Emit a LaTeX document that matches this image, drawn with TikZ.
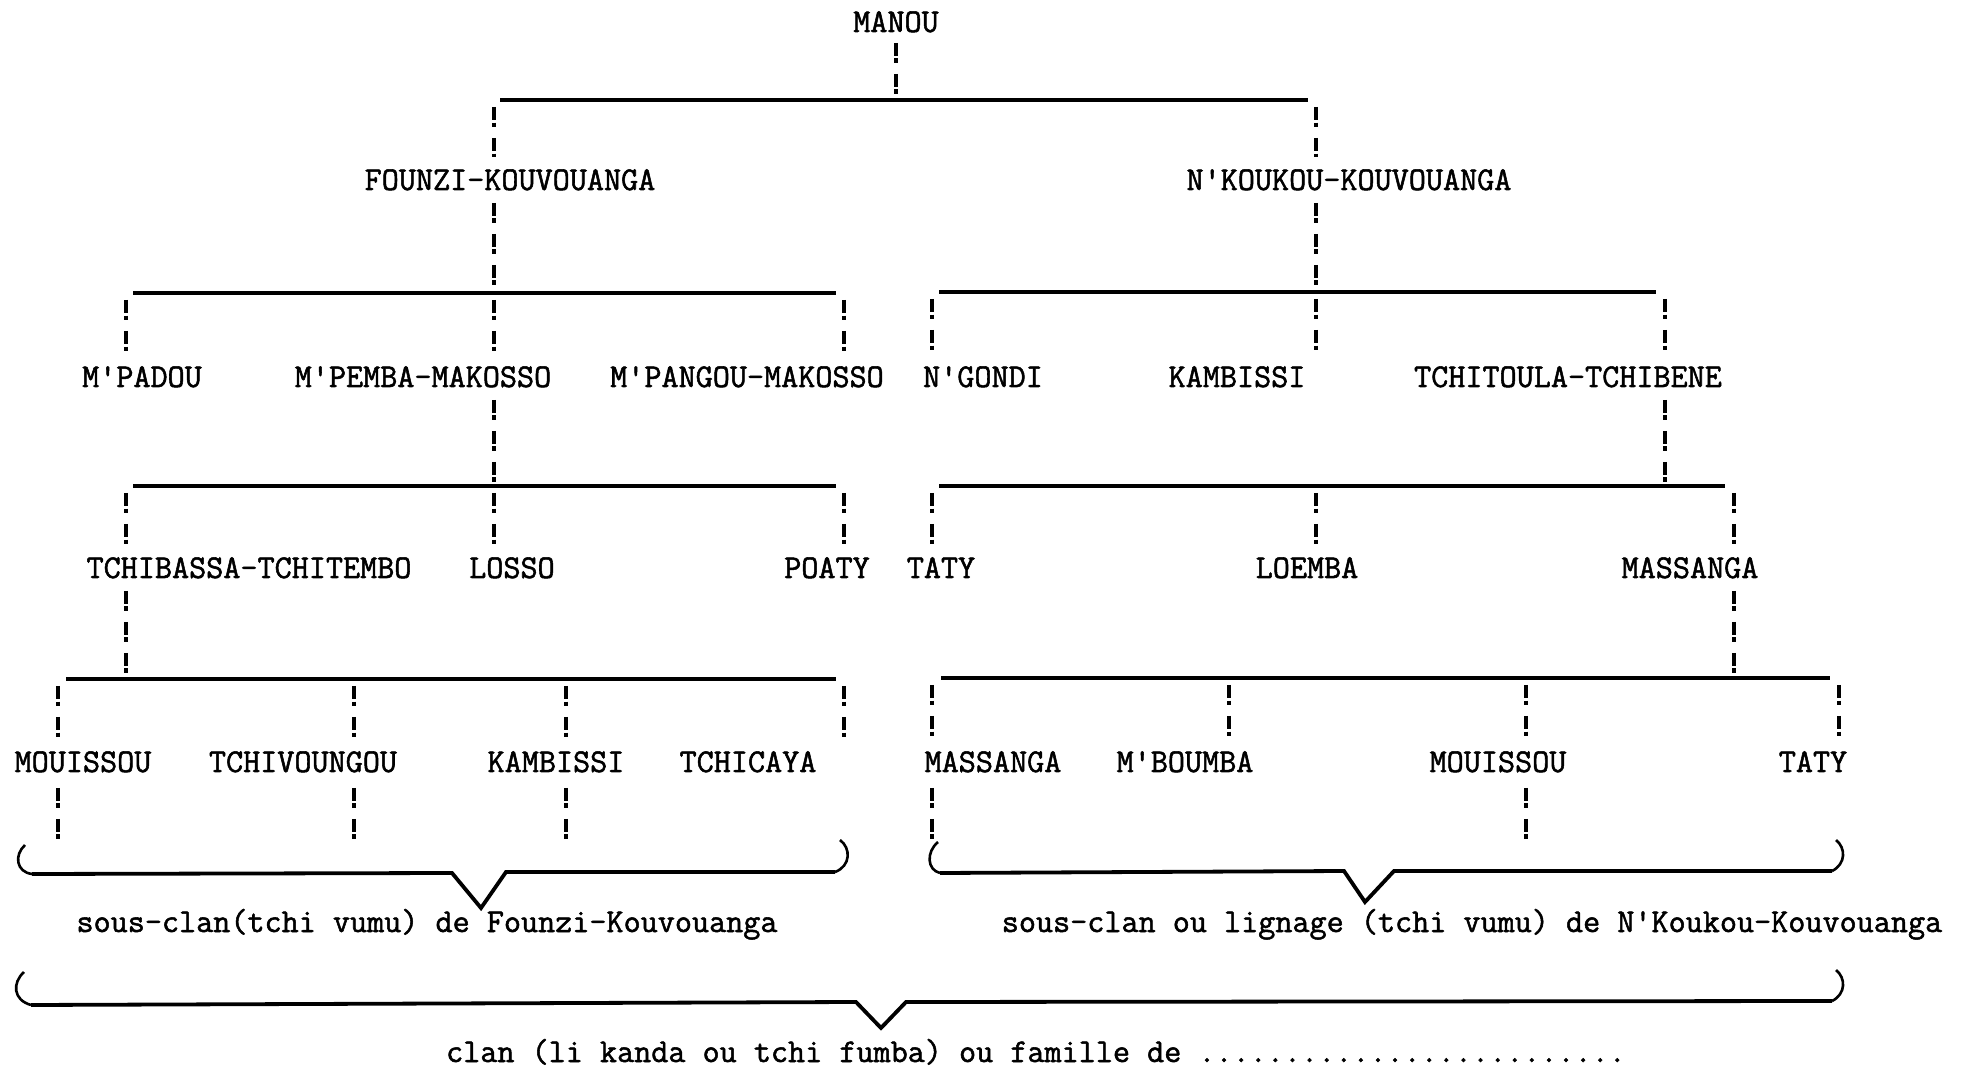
\documentclass[tikz,border=0pt]{standalone}
\usepackage{fontspec}
\newfontfamily\typed{Latin Modern Mono}[FakeBold=1.6]
\usepackage{tikz}
\usetikzlibrary{calc}
\begin{document}
\begin{tikzpicture}[x=0.5pt,y=-0.5pt,
  person/.style={font=\typed\fontsize{16.6}{20}\selectfont,inner sep=0pt,anchor=base},
  excl/.style={line width=1.8pt,dash pattern=on 6.5pt off 1.3pt on 2.2pt off 5.5pt},
  branch/.style={line width=1.9pt},
  paren/.style={line width=1.3pt}]
\useasboundingbox (0,0) rectangle (1961,1074);
% generations
\node[person](manou) at (896,32){MANOU};
\node[person](founzi) at (510,190){FOUNZI-KOUVOUANGA};
\node[person](nkoukou) at (1349,190){N'KOUKOU-KOUVOUANGA};
\node[person](mpadou) at (142,387){M'PADOU};
\node[person](mpemba) at (423,387){M'PEMBA-MAKOSSO};
\node[person](mpangou) at (747,387){M'PANGOU-MAKOSSO};
\node[person](ngondi) at (983,387){N'GONDI};
\node[person](kambissiA) at (1237,387){KAMBISSI};
\node[person](tchitoula) at (1568,387){TCHITOULA-TCHIBENE};
\node[person](tchibassa) at (249,578){TCHIBASSA-TCHITEMBO};
\node[person](losso) at (512,578){LOSSO};
\node[person](poaty) at (827,578){POATY};
\node[person](tatyA) at (941,578){TATY};
\node[person](loemba) at (1307,578){LOEMBA};
\node[person](massangaA) at (1690,578){MASSANGA};
\node[person](mouissouA) at (83,772){MOUISSOU};
\node[person](tchivoungou) at (303,772){TCHIVOUNGOU};
\node[person](kambissiB) at (556,772){KAMBISSI};
\node[person](tchicaya) at (748,772){TCHICAYA};
\node[person](massangaB) at (993,772){MASSANGA};
\node[person](mboumba) at (1185,772){M'BOUMBA};
\node[person](mouissouB) at (1498,772){MOUISSOU};
\node[person](tatyB) at (1813,772){TATY};
% bars
\coordinate(t1a) at (500,100);\coordinate(t1b) at (1308,100);
\coordinate(t2a) at (133,293);\coordinate(t2b) at (836,293);
\coordinate(t2c) at (939,292);\coordinate(t2d) at (1656,292);
\coordinate(t3a) at (133,486);\coordinate(t3b) at (836,486);
\coordinate(t3c) at (939,486);\coordinate(t3d) at (1725,486);
\coordinate(t4a) at (66,679);\coordinate(t4b) at (836,679);
\coordinate(t4c) at (941,678);\coordinate(t4d) at (1830,678);
\draw[branch](t1a)--(t1b);
\draw[branch](t2a)--(t2b);\draw[branch](t2c)--(t2d);
\draw[branch](t3a)--(t3b);\draw[branch](t3c)--(t3d);
\draw[branch](t4a)--(t4b);\draw[branch](t4c)--(t4d);
% junctions
\coordinate(j1a) at (494,100);\coordinate(j1b) at (1316,100);
\coordinate(f2) at (494,293);\coordinate(n2) at (1316,292);
\coordinate(j2a) at (126,293);\coordinate(j2b) at (844,293);\coordinate(j2c) at (932,292);\coordinate(j2d) at (1665,292);
\coordinate(m3) at (494,486);\coordinate(c3) at (1665,486);
\coordinate(j3a) at (126,486);\coordinate(j3b) at (844,486);\coordinate(j3c) at (932,486);\coordinate(j3d) at (1316,486);\coordinate(j3e) at (1734,486);
\coordinate(b4) at (126,679);\coordinate(s4) at (1734,678);
\coordinate(j4a) at (58,679);\coordinate(j4b) at (354,679);\coordinate(j4c) at (566,679);\coordinate(j4d) at (844,679);
\coordinate(j4e) at (932,678);\coordinate(j4f) at (1229,678);\coordinate(j4g) at (1526,678);\coordinate(j4h) at (1839,678);
% parents down to bars
\draw[excl]($(manou.south)+(0,10)$)--(manou.south|-t1a);
\draw[excl]($(f2|-founzi.south)+(0,12)$)--(f2);
\draw[excl]($(n2|-nkoukou.south)+(0,12)$)--(n2);
\draw[excl]($(f2|-mpemba.south)+(0,12)$)--(m3);
\draw[excl]($(c3|-tchitoula.south)+(0,12)$)--(c3);
\draw[excl]($(b4|-tchibassa.south)+(0,12)$)--(b4);
\draw[excl]($(s4|-massangaA.south)+(0,12)$)--(s4);
% bars down to children
\draw[excl]($(j1a)+(0,7)$)--($(j1a|-founzi.north)+(0,-12)$);
\draw[excl]($(j1b)+(0,7)$)--($(j1b|-nkoukou.north)+(0,-12)$);
\draw[excl]($(j2a)+(0,7)$)--($(j2a|-mpadou.north)+(0,-12)$);
\draw[excl]($(f2)+(0,7)$)--($(f2|-mpemba.north)+(0,-12)$);
\draw[excl]($(j2b)+(0,7)$)--($(j2b|-mpangou.north)+(0,-12)$);
\draw[excl]($(j2c)+(0,7)$)--($(j2c|-ngondi.north)+(0,-12)$);
\draw[excl]($(n2)+(0,7)$)--($(n2|-kambissiA.north)+(0,-12)$);
\draw[excl]($(j2d)+(0,7)$)--($(j2d|-tchitoula.north)+(0,-12)$);
\draw[excl]($(j3a)+(0,7)$)--($(j3a|-tchibassa.north)+(0,-12)$);
\draw[excl]($(m3)+(0,7)$)--($(m3|-losso.north)+(0,-12)$);
\draw[excl]($(j3b)+(0,7)$)--($(j3b|-poaty.north)+(0,-12)$);
\draw[excl]($(j3c)+(0,7)$)--($(j3c|-tatyA.north)+(0,-12)$);
\draw[excl]($(j3d)+(0,7)$)--($(j3d|-loemba.north)+(0,-12)$);
\draw[excl]($(j3e)+(0,7)$)--($(j3e|-massangaA.north)+(0,-12)$);
\draw[excl]($(j4a)+(0,7)$)--($(j4a|-mouissouA.north)+(0,-12)$);
\draw[excl]($(j4b)+(0,7)$)--($(j4b|-tchivoungou.north)+(0,-12)$);
\draw[excl]($(j4c)+(0,7)$)--($(j4c|-kambissiB.north)+(0,-12)$);
\draw[excl]($(j4d)+(0,7)$)--($(j4d|-tchicaya.north)+(0,-12)$);
\draw[excl]($(j4e)+(0,7)$)--($(j4e|-massangaB.north)+(0,-12)$);
\draw[excl]($(j4f)+(0,7)$)--($(j4f|-mboumba.north)+(0,-12)$);
\draw[excl]($(j4g)+(0,7)$)--($(j4g|-mouissouB.north)+(0,-12)$);
\draw[excl]($(j4h)+(0,7)$)--($(j4h|-tatyB.north)+(0,-12)$);
% brackets
\coordinate(s1a) at (32,874);\coordinate(v1) at (481,908);\coordinate(s1b) at (835,872);
\coordinate(s2a) at (940,873);\coordinate(v2) at (1365,902);\coordinate(s2b) at (1832,871);
\coordinate(s3a) at (31,1005);\coordinate(v3) at (881,1028);\coordinate(s3b) at (1832,1001);
\draw[excl]($(j4a|-mouissouA.south)+(0,15)$)--($(j4a|-s1a)+(0,-33)$);
\draw[excl]($(j4b|-tchivoungou.south)+(0,15)$)--($(j4b|-s1a)+(0,-33)$);
\draw[excl]($(j4c|-kambissiB.south)+(0,15)$)--($(j4c|-s1a)+(0,-33)$);
\draw[excl]($(j4e|-massangaB.south)+(0,15)$)--($(j4e|-s2a)+(0,-32)$);
\draw[excl]($(j4g|-mouissouB.south)+(0,15)$)--($(j4g|-s2a)+(0,-32)$);
\draw[branch](s1a)--(452,873)--(v1)--(506,872)--(s1b);
\draw[branch](s2a)--(1344,871)--(v2)--(1394,871)--(s2b);
\draw[branch](s3a)--(856,1002)--(v3)--(906,1002)--(s3b);
\draw[paren](25,845)..controls(14,855)and(16,872)..(s1a);
\draw[paren](s1b)..controls(851,866)and(851,848)..(840,840);
\draw[paren](938,842)..controls(926,852)and(927,870)..(s2a);
\draw[paren](s2b)..controls(1846,864)and(1846,848)..(1836,840);
\draw[paren](24,972)..controls(12,983)and(13,1000)..(s3a);
\draw[paren](s3b)..controls(1846,994)and(1846,978)..(1836,970);
\node[person](sub1) at (427,932){sous-clan(tchi vumu) de Founzi-Kouvouanga};
\node[person](sub2) at (1472,932){sous-clan ou lignage (tchi vumu) de N'Koukou-Kouvouanga};
\node[person](clan) at (1036,1062){clan (li kanda ou tchi fumba) ou famille de .........................};
\end{tikzpicture}
\end{document}
